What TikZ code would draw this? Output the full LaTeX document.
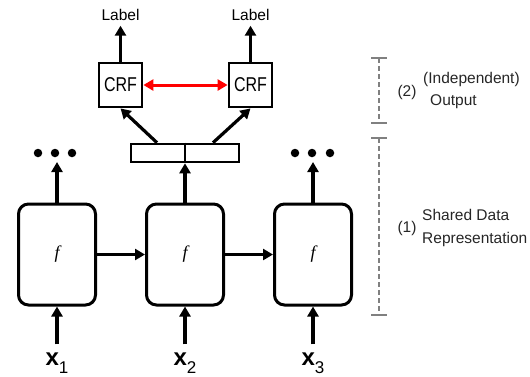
\documentclass[tikz,border=0pt]{standalone}
\usepackage{fontspec}
\setmainfont{Liberation Sans}
\newfontfamily\crffont[FakeStretch=0.8]{Liberation Sans}
\newfontfamily\ffont{Liberation Serif}
\usetikzlibrary{arrows.meta}
\begin{document}
\begin{tikzpicture}[x=1pt,y=-1pt,
  fbox/.style={draw,line width=3pt,rounded corners=10pt,minimum width=77pt,minimum height=101pt,inner sep=0,font=\ffont\itshape\fontsize{18}{20}\selectfont},
  crfbox/.style={draw,line width=2.8pt,minimum width=43pt,minimum height=44pt,inner sep=0,font=\crffont\fontsize{20}{24}\selectfont},
  arr/.style={line width=3.2pt,-{Triangle[length=10pt,width=11pt]}},
  redarr/.style={line width=3pt,red,{Triangle[length=10pt,width=11pt]}-{Triangle[length=10pt,width=11pt]}},
  lab/.style={font=\fontsize{15.5}{18}\selectfont,inner sep=0,outer sep=5pt},
  side/.style={font=\fontsize{15.5}{18}\selectfont,inner sep=0,text=black!85},
  dot/.style={circle,fill,inner sep=0,minimum size=8.5pt},
  brk/.style={draw=gray,line width=2.4pt,dash pattern=on 5pt off 3pt},
  tick/.style={draw=gray,line width=2.4pt},
  inp/.style={font=\fontsize{24}{26}\selectfont\bfseries,inner sep=0,outer sep=8pt,anchor=base}
]
\useasboundingbox (0,0) rectangle (530,376);

% recurrent cells
\node[fbox] (f1) at (57,254.5) {f};
\node[fbox] (f2) at (185,254.5) {f};
\node[fbox] (f3) at (313,254.5) {f};
\draw[arr] (f1) -- (f2);
\draw[arr] (f2) -- (f3);

% inputs
\node[inp] (x1) at (57,365) {x\textmd{\fontsize{17}{18}\selectfont\raisebox{-8pt}{1}}};
\node[inp] (x2) at (185,365) {x\textmd{\fontsize{17}{18}\selectfont\raisebox{-8pt}{2}}};
\node[inp] (x3) at (313,365) {x\textmd{\fontsize{17}{18}\selectfont\raisebox{-8pt}{3}}};
\draw[arr] (x1) -- (f1);
\draw[arr] (x2) -- (f2);
\draw[arr] (x3) -- (f3);

% dots outputs
\coordinate (t1) at (57,162);
\coordinate (t3) at (313,162);
\draw[arr] (f1) -- (t1);
\draw[arr] (f3) -- (t3);
\node[dot] (d11) at (38,153) {};
\node[dot] (d12) at (55,153) {};
\node[dot] (d13) at (72,153) {};
\node[dot] (d31) at (295,153) {};
\node[dot] (d32) at (312,153) {};
\node[dot] (d33) at (330,153) {};

% shared hidden layer
\node[draw,line width=2.6pt,minimum width=108pt,minimum height=18pt,inner sep=0] (hr) at (185,153) {};
\draw[line width=2.6pt] (hr.north) -- (hr.south);
\draw[arr] (f2) -- (hr);

% CRFs
\node[crfbox] (c1) at (120.5,85) {CRF};
\node[crfbox] (c2) at (250.5,85) {CRF};
\draw[arr] ([xshift=-28pt]hr.north) -- (c1.south);
\draw[arr] ([xshift=28pt]hr.north) -- (c2.south);
\draw[redarr] (c1) -- (c2);

\node[lab] (l1) at (120.5,15) {Label};
\node[lab] (l2) at (250.5,15) {Label};
\draw[arr] (c1) -- (l1);
\draw[arr] (c2) -- (l2);

% brackets
\coordinate (b2t) at (379,58);
\coordinate (b2b) at (379,123);
\coordinate (b1t) at (379,138);
\coordinate (b1b) at (379,315);
\draw[brk] (b2t) -- (b2b);
\draw[brk] (b1t) -- (b1b);
\foreach \p in {b2t,b2b,b1t,b1b}{\draw[tick] ([xshift=-8pt]\p) -- ([xshift=8pt]\p);}

\node[side] (n2) at (407,92) {(2)};
\node[side,anchor=west] (ind) at (423,79) {(Independent)};
\node[side,anchor=west] (out) at (430,102) {Output};
\node[side] (n1) at (407,228) {(1)};
\node[side,anchor=west] (sd) at (422,215) {Shared Data};
\node[side,anchor=west] (rep) at (422,239) {Representation};
\end{tikzpicture}
\end{document}
